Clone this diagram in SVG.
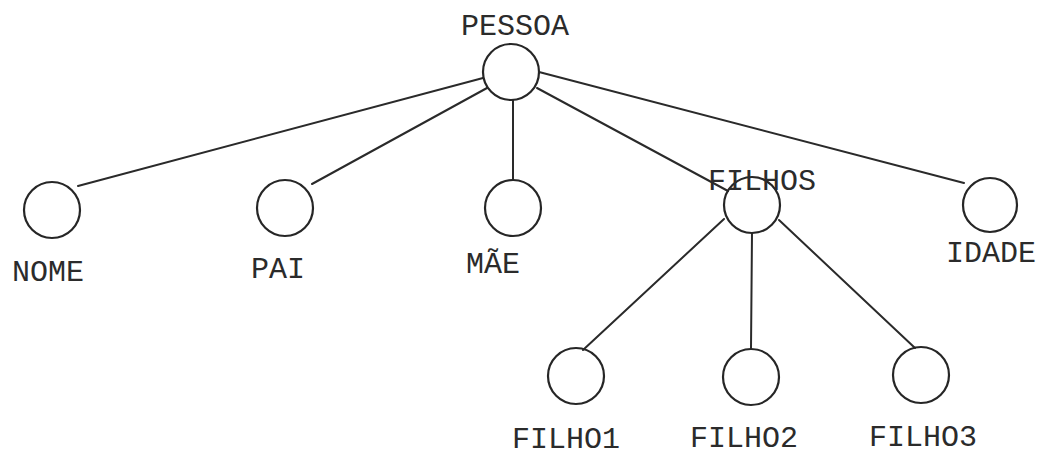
<svg xmlns="http://www.w3.org/2000/svg" width="1042" height="457" viewBox="0 0 1042 457">
<style>
.n{fill:none;stroke:#262626;stroke-width:2.2}
.e{stroke:#2a2a2a;stroke-width:2;fill:none;stroke-linecap:round}
.t{font-family:"Liberation Mono","DejaVu Sans Mono",monospace;font-size:30px;fill:#2b2b2b;text-anchor:middle}
</style>
<rect width="1042" height="457" fill="#ffffff"/>
<g id="connectors">
<line class="e" x1="483" y1="78" x2="78" y2="186"/>
<line class="e" x1="487" y1="88" x2="312" y2="184"/>
<line class="e" x1="513" y1="100" x2="513" y2="180"/>
<line class="e" x1="537" y1="88" x2="728" y2="191"/>
<line class="e" x1="539" y1="72" x2="964" y2="183"/>
<line class="e" x1="724" y1="219" x2="583" y2="350"/>
<line class="e" x1="752" y1="233" x2="751" y2="349"/>
<line class="e" x1="779" y1="220" x2="915" y2="348"/>
</g>
<g id="pessoa"><circle class="n" cx="511" cy="72" r="28"/><text class="t" x="515" y="35">PESSOA</text></g>
<g id="nome"><circle class="n" cx="52" cy="210" r="28"/><text class="t" x="48" y="281">NOME</text></g>
<g id="pai"><circle class="n" cx="285" cy="208" r="28"/><text class="t" x="278" y="278">PAI</text></g>
<g id="mae"><circle class="n" cx="513" cy="208" r="28"/><text class="t" x="493" y="273">MÃE</text></g>
<g id="filhos"><circle class="n" cx="752" cy="205" r="28"/><text class="t" x="762" y="190">FILHOS</text></g>
<g id="idade"><circle class="n" cx="990" cy="205" r="27"/><text class="t" x="991" y="262">IDADE</text></g>
<g id="filho1"><circle class="n" cx="576" cy="376" r="28"/><text class="t" x="566" y="448">FILHO1</text></g>
<g id="filho2"><circle class="n" cx="751" cy="377" r="28"/><text class="t" x="744" y="447">FILHO2</text></g>
<g id="filho3"><circle class="n" cx="921" cy="375" r="28"/><text class="t" x="923" y="446">FILHO3</text></g>
</svg>
